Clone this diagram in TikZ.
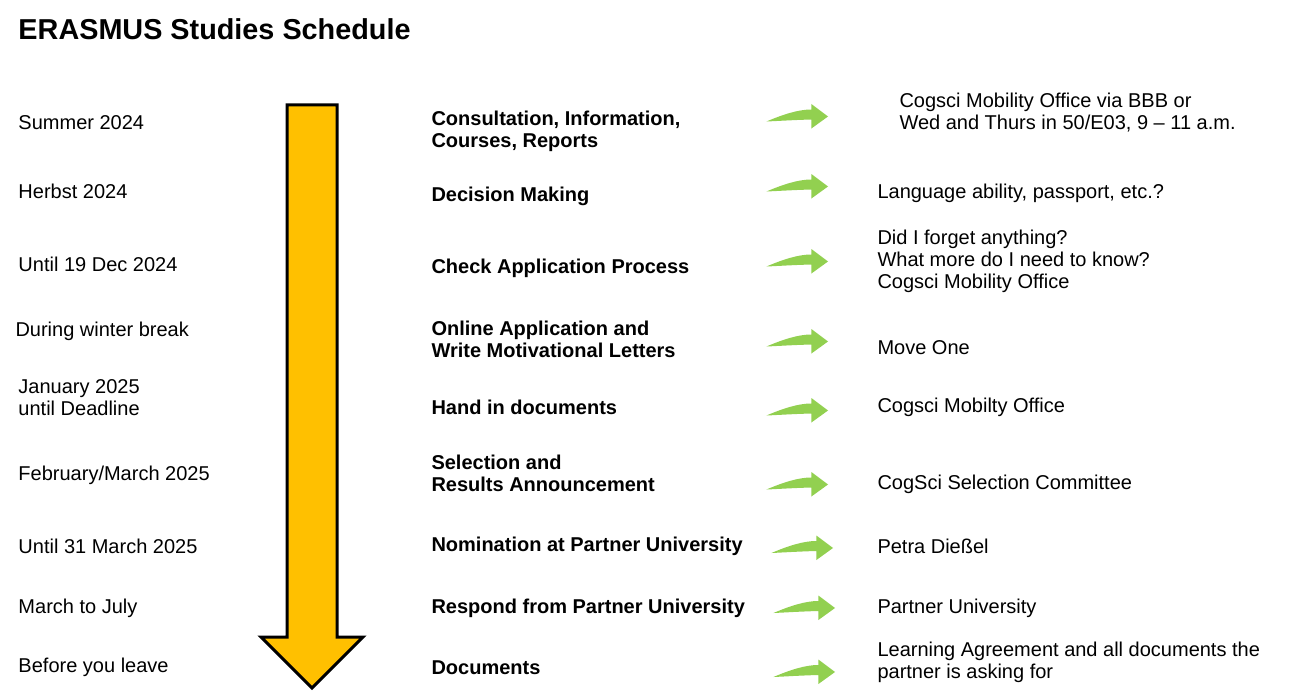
\documentclass[tikz,border=0pt]{standalone}
\usepackage{fontspec}
\setmainfont{Liberation Sans}

\definecolor{timelineorange}{RGB}{255,192,0}
\definecolor{hintgreen}{RGB}{146,208,80}

\tikzset{every picture/.style={line width=0.75pt}}
\tikzset{
  datelabel/.style={anchor=west, inner sep=0pt, align=left, font=\fontsize{15}{16.5}\selectfont},
  steplabel/.style={datelabel, font=\fontsize{15}{16.5}\selectfont\bfseries},
  whomlabel/.style={datelabel},
  pics/hintarrow/.style={code={
    \fill[hintgreen] (0,0) -- (-16.6,-12) -- (-16.6,-3)
      .. controls (-35,-3.5) and (-50,-4.5) .. (-61.6,-5)
      .. controls (-45,2) and (-30,7) .. (-16.6,7)
      -- (-16.6,12.5) -- cycle;
  }}
}

\begin{document}
\begin{tikzpicture}[x=0.75pt,y=0.75pt,yscale=-1,xscale=1]
\useasboundingbox (0,0) rectangle (1296,699);

% Title
\node (title) [anchor=west, inner sep=0pt, font=\fontsize{21.6}{24}\selectfont\bfseries] at (18,29) {ERASMUS Studies Schedule};

%Shape: Down Arrow
\draw [fill=timelineorange, line width=2.25pt, line join=miter] (287,105) -- (337,105) -- (337,637) -- (363,637) -- (312,688) -- (261,637) -- (287,637) -- cycle ;

% Text Node (dates)
\node (d1) [datelabel] at (18,123) {Summer 2024};
\node (d2) [datelabel] at (18,191.5) {Herbst 2024};
\node (d3) [datelabel] at (18,264.5) {Until 19 Dec 2024};
\node (d4) [datelabel] at (15,331.5) {During winter break};
\node (d5) [datelabel] at (18,397.5) {January 2025\\until Deadline};
\node (d6) [datelabel] at (18,475.5) {February/March 2025};
\node (d7) [datelabel] at (18,546) {Until 31 March 2025};
\node (d8) [datelabel] at (18,608.5) {March to July};
\node (d9) [datelabel] at (18,667.5) {Before you leave};

% Text Node (steps)
\node (s1) [steplabel] at (431,131.5) {Consultation, Information,\\Courses, Reports};
\node (s2) [steplabel] at (431,196.5) {Decision Making};
\node (s3) [steplabel] at (431,268.5) {Check Application Process};
\node (s4) [steplabel] at (431,339.5) {Online Application and\\Write Motivational Letters};
\node (s5) [steplabel] at (431,407.5) {Hand in documents};
\node (s6) [steplabel] at (431,473.5) {Selection and\\Results Announcement};
\node (s7) [steplabel] at (431,546.5) {Nomination at Partner University};
\node (s8) [steplabel] at (431,608.5) {Respond from Partner University};
\node (s9) [steplabel] at (431,667.5) {Documents};

%Shape: Green Arrows
\pic at (828,116.5) {hintarrow};
\pic at (828,186.5) {hintarrow};
\pic at (828,261.5) {hintarrow};
\pic at (828,341.5) {hintarrow};
\pic at (828,410.5) {hintarrow};
\pic at (828,484.5) {hintarrow};
\pic at (833,548) {hintarrow};
\pic at (835,608) {hintarrow};
\pic at (835,672) {hintarrow};

% Text Node (who / what)
\node (w1) [whomlabel] at (899,112.5) {Cogsci Mobility Office via BBB or\\Wed and Thurs in 50/E03, 9 -- 11 a.m.};
\node (w2) [whomlabel] at (877,193.5) {Language ability, passport, etc.?};
\node (w3) [whomlabel] at (877,261.5) {Did I forget anything?\\What more do I need to know?\\Cogsci Mobility Office};
\node (w4) [whomlabel] at (877,347.5) {Move One};
\node (w5) [whomlabel] at (877,407.5) {Cogsci Mobilty Office};
\node (w6) [whomlabel] at (877,484.5) {CogSci Selection Committee};
\node (w7) [whomlabel] at (877,546.5) {Petra Dießel};
\node (w8) [whomlabel] at (877,608.5) {Partner University};
\node (w9) [whomlabel] at (877,662.5) {Learning Agreement and all documents the\\partner is asking for};

\end{tikzpicture}
\end{document}
